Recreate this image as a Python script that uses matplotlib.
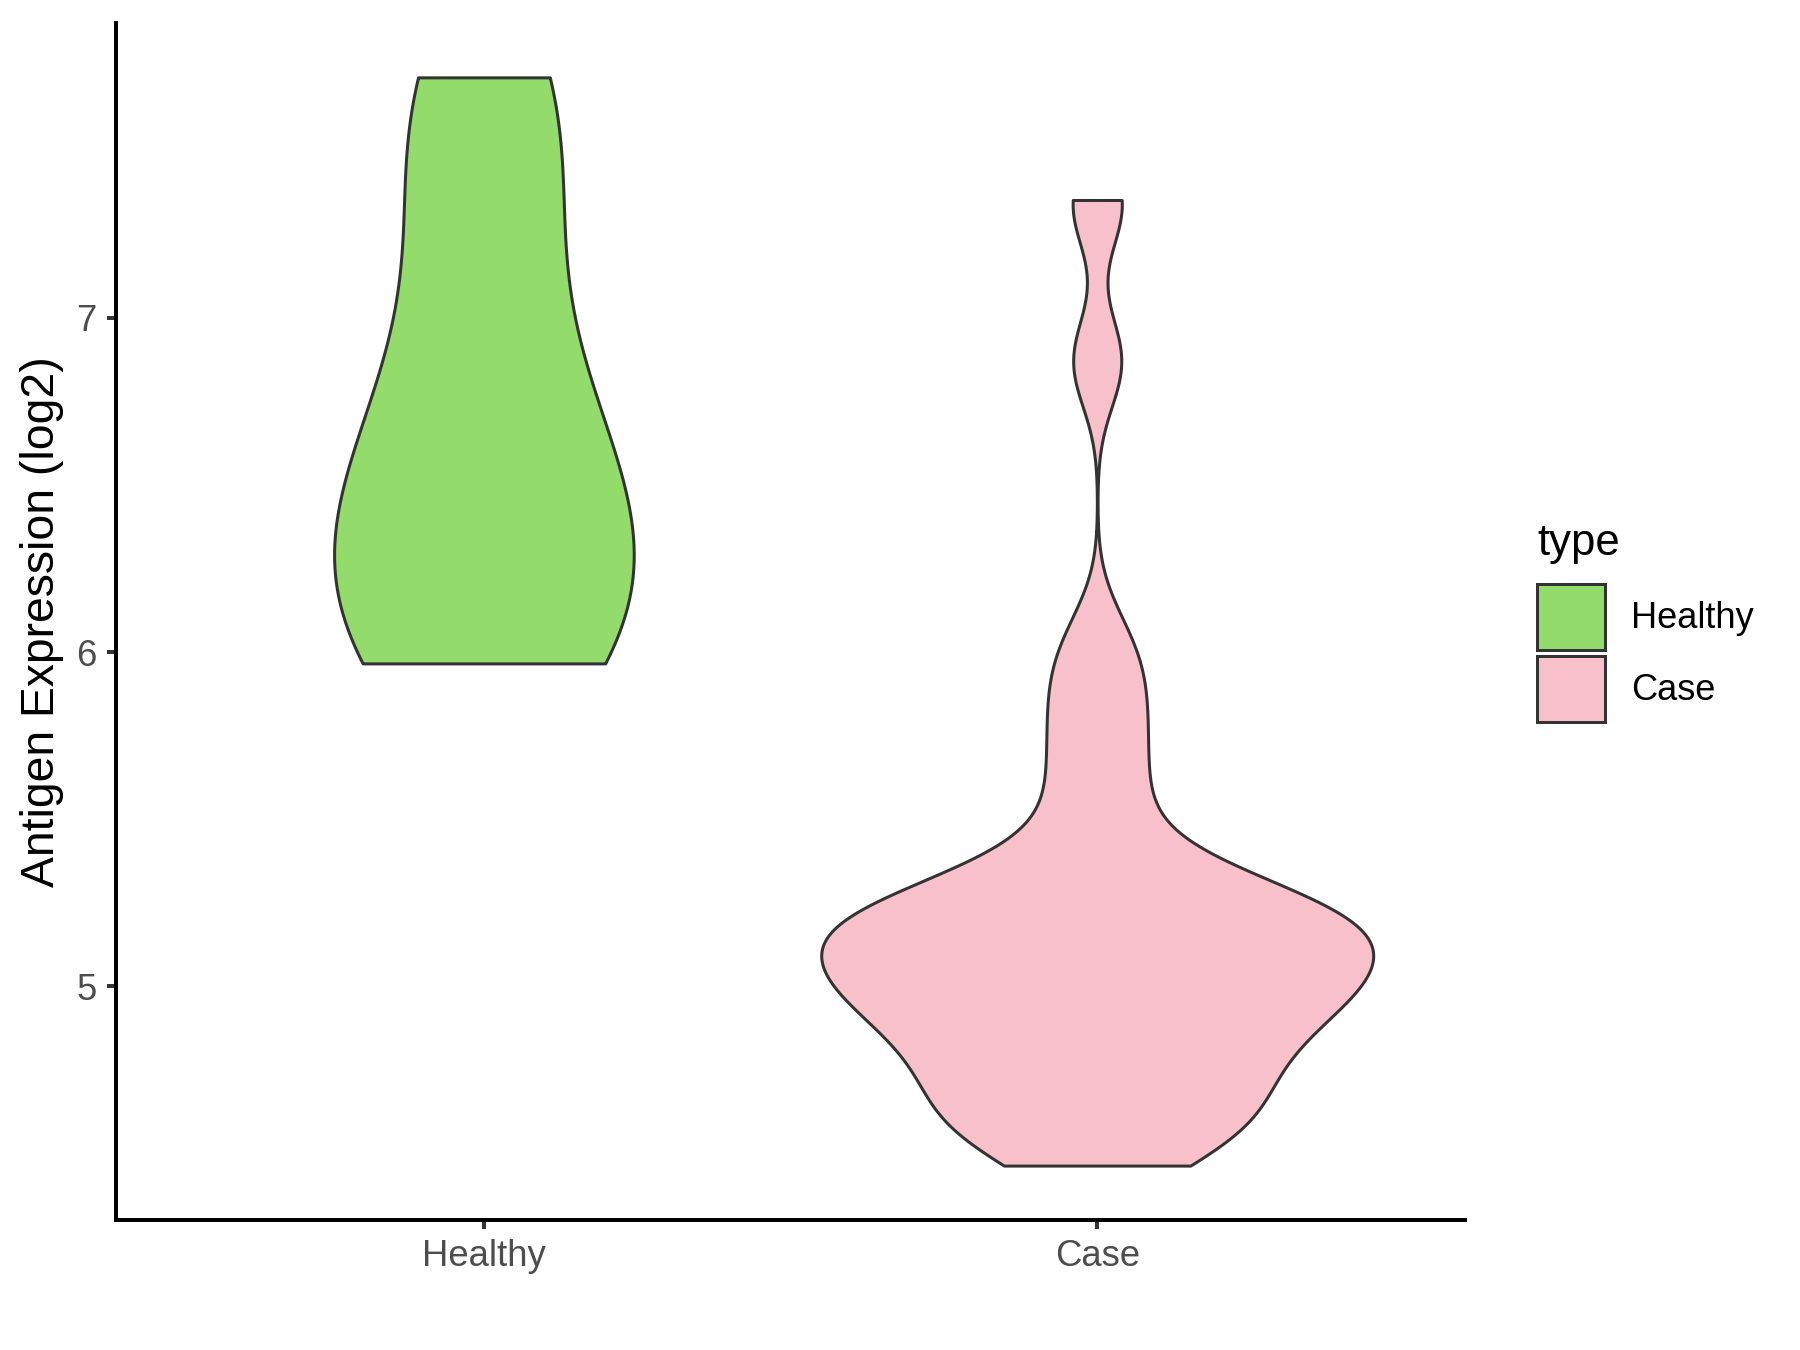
import numpy as np
import matplotlib
matplotlib.use("Agg")
import matplotlib.pyplot as plt
from matplotlib.patches import Patch

plt.rcParams['font.family'] = ['Liberation Sans', 'DejaVu Sans']

# --- Data (log2 antigen expression per sample) ---
groups = ['Healthy', 'Case']
healthy = [5.966, 6.0, 6.12, 6.28, 6.45, 6.6, 6.8, 7.2, 7.58, 7.72]
case = [4.463, 4.49, 4.51, 4.53, 4.56, 4.58, 4.60, 4.63, 4.65, 4.67,
        4.70, 4.72, 4.74, 4.77, 4.79, 4.81, 4.84,
        4.86, 4.89, 4.90, 4.92, 4.93, 4.95, 4.96, 4.97, 4.99,
        5.00, 5.02, 5.03, 5.05, 5.06, 5.07, 5.09, 5.10, 5.12, 5.13,
        5.15, 5.16, 5.17, 5.19, 5.20, 5.215, 5.22, 5.23, 5.24, 5.26, 5.27,
        5.28, 5.29,
        5.34, 5.42, 5.50, 5.58, 5.66, 5.74, 5.82, 5.90, 5.98, 6.06,
        6.84, 6.90, 7.33, 7.353]
colors = ['#93DB6A', '#F8C0CB']
edge = '#333333'


def bw_nrd0(x):
    # same rule as R's density() default
    sd = np.std(x, ddof=1)
    q75, q25 = np.percentile(x, [75, 25])
    lo = min(sd, (q75 - q25) / 1.34)
    return 0.9 * lo * len(x) ** -0.2


def kde_trim(x, npts=512):
    x = np.asarray(x)
    h = bw_nrd0(x)
    y = np.linspace(x.min(), x.max(), npts)
    d = np.exp(-0.5 * ((y[:, None] - x[None, :]) / h) ** 2).sum(axis=1)
    d /= len(x) * h * np.sqrt(2 * np.pi)
    return y, d


dens = [kde_trim(v) for v in (healthy, case)]
dmax = max(d.max() for _, d in dens)

fig = plt.figure(figsize=(12, 9), dpi=150)
ax = fig.add_axes([0.0644, 0.0963, 0.814 - 0.0644, 0.983 - 0.0963])

for i, ((y, d), col) in enumerate(zip(dens, colors)):
    hw = 0.45 * d / dmax  # scale = "area"
    ax.fill_betweenx(y, i + 1 - hw, i + 1 + hw, facecolor=col,
                     edgecolor=edge, linewidth=1.45, zorder=2)

allv = np.concatenate([healthy, case])
pad = 0.05 * (allv.max() - allv.min())
ax.set_ylim(allv.min() - pad, allv.max() + pad)
ax.set_xlim(0.4, 2.6)

ax.set_xticks([1, 2])
ax.set_xticklabels(groups)
ax.set_yticks([5, 6, 7])
ax.tick_params(axis='both', labelsize=17.5, labelcolor='#4D4D4D',
               color=edge, length=4.3, width=1.9, pad=5)
ax.set_ylabel('Antigen Expression (log2)', fontsize=22.2, labelpad=6)

for s in ['top', 'right']:
    ax.spines[s].set_visible(False)
for s in ['left', 'bottom']:
    ax.spines[s].set_linewidth(1.9)
    ax.spines[s].set_color('black')
    ax.spines[s].set_capstyle('projecting')

# legend: title as its own text so the gap above the keys matches
fig.text(1537 / 1800, 1 - 555 / 1350, 'type', fontsize=21, va='baseline',
         ha='left')
handles = [Patch(facecolor=c, edgecolor=edge, linewidth=1.45, label=g)
           for c, g in zip(colors, groups)]
leg = fig.legend(handles=handles, loc='upper left',
                 bbox_to_anchor=(1537 / 1800, 1 - 584 / 1350),
                 frameon=False, fontsize=17.4,
                 handlelength=1.88, handleheight=2.423, labelspacing=0.165,
                 handletextpad=0.72, borderpad=0, borderaxespad=0)

fig.savefig('out.png', dpi=150, facecolor='white')
